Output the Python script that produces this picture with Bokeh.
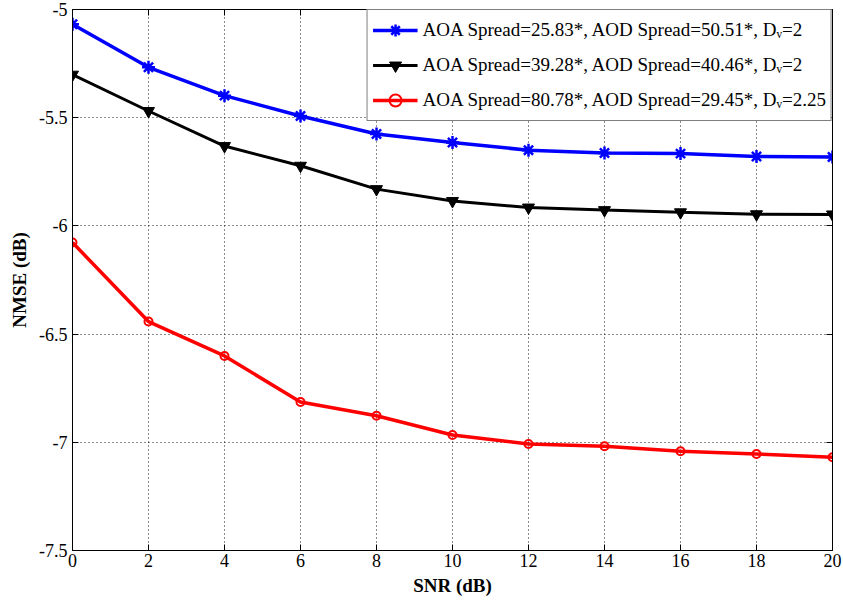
from bokeh.plotting import figure
from bokeh.models import FixedTicker, LinearAxis, Legend, LegendItem, Range1d, CustomJSTickFormatter
from bokeh.embed import file_html
from bokeh.resources import INLINE

# ---- data ----
snr = [0, 2, 4, 6, 8, 10, 12, 14, 16, 18, 20]
nmse_a = [-5.068, -5.267, -5.398, -5.492, -5.575, -5.615, -5.650, -5.663, -5.666, -5.679, -5.682]
nmse_b = [-5.301, -5.469, -5.631, -5.722, -5.830, -5.885, -5.915, -5.927, -5.937, -5.946, -5.947]
nmse_c = [-6.077, -6.442, -6.601, -6.814, -6.877, -6.966, -7.008, -7.018, -7.041, -7.054, -7.069]

labels = [
    "AOA Spread=25.83*, AOD Spread=50.51*, D\u1d65=2",
    "AOA Spread=39.28*, AOD Spread=40.46*, D\u1d65=2",
    "AOA Spread=80.78*, AOD Spread=29.45*, D\u1d65=2.25",
]
x_ticks = [0, 2, 4, 6, 8, 10, 12, 14, 16, 18, 20]
y_ticks = [-7.5, -7.0, -6.5, -6.0, -5.5, -5.0]
y_tick_labels = ["-7.5", "-7", "-6.5", "-6", "-5.5", "-5"]

FONT = "Liberation Serif"

p = figure(width=843, height=600, x_range=Range1d(0, 20), y_range=Range1d(-7.5, -5),
           output_backend="svg", toolbar_location=None,
           min_border_left=72, min_border_right=11, min_border_top=9, min_border_bottom=50,
           background_fill_color="white", border_fill_color="white")
p.outline_line_color = "black"
p.outline_line_width = 1

p.xaxis.ticker = FixedTicker(ticks=x_ticks)
p.yaxis.ticker = FixedTicker(ticks=y_ticks)
p.yaxis.major_label_overrides = {t: l for t, l in zip(y_ticks, y_tick_labels)}
p.xaxis.axis_label = "SNR (dB)"
p.yaxis.axis_label = "NMSE (dB)"

for ax in (p.xaxis[0], p.yaxis[0]):
    ax.major_tick_in = 6
    ax.major_tick_out = 0
    ax.minor_tick_line_color = None
    ax.axis_line_color = "black"
    ax.major_tick_line_color = "black"
    ax.major_label_text_font = FONT
    ax.major_label_text_font_style = "normal"
    ax.major_label_text_font_size = "18px"
    ax.major_label_text_color = "black"
    ax.axis_label_text_font = FONT
    ax.axis_label_text_font_style = "bold"
    ax.axis_label_text_font_size = "19px"
    ax.axis_label_text_color = "black"
p.xaxis.major_label_standoff = 3
p.xaxis.axis_label_standoff = 5
p.yaxis.major_label_standoff = 5
p.yaxis.axis_label_standoff = 6

blank = CustomJSTickFormatter(code="return ''")
top_ax = LinearAxis(ticker=FixedTicker(ticks=x_ticks), formatter=blank,
                    major_tick_in=6, major_tick_out=0, minor_tick_line_color=None,
                    major_label_standoff=0, axis_line_color="black")
right_ax = LinearAxis(ticker=FixedTicker(ticks=y_ticks), formatter=blank,
                      major_tick_in=6, major_tick_out=0, minor_tick_line_color=None,
                      major_label_standoff=0, axis_line_color="black")
p.add_layout(top_ax, "above")
p.add_layout(right_ax, "right")

p.xgrid.ticker = FixedTicker(ticks=x_ticks)
p.ygrid.ticker = FixedTicker(ticks=y_ticks)
p.grid.grid_line_color = "black"
p.grid.grid_line_dash = "1 3"
p.grid.grid_line_width = 1
p.grid.grid_line_alpha = 0.9

la = p.line(snr, nmse_a, line_color="#0000ff", line_width=3.5)
ma = p.scatter(snr, nmse_a, marker="asterisk", size=13, line_color="#0000ff", line_width=2.5)
lb = p.line(snr, nmse_b, line_color="black", line_width=3)
mb = p.scatter(snr, nmse_b, marker="inverted_triangle", size=12, line_color="black", fill_color="black")
lc = p.line(snr, nmse_c, line_color="#ff0000", line_width=3.5)
mc = p.scatter(snr, nmse_c, marker="circle", size=8, line_color="#ff0000", fill_color=None, line_width=2)

legend = Legend(items=[LegendItem(label=labels[0], renderers=[la, ma]),
                       LegendItem(label=labels[1], renderers=[lb, mb]),
                       LegendItem(label=labels[2], renderers=[lc, mc])],
                location="top_right")
legend.border_line_color = "black"
legend.border_line_width = 1
legend.background_fill_color = "white"
legend.background_fill_alpha = 1
legend.label_text_font = FONT
legend.label_text_font_style = "normal"
legend.label_text_font_size = "19px"
legend.label_text_color = "black"
legend.glyph_width = 45
legend.glyph_height = 30
legend.label_height = 30
legend.spacing = 5
legend.padding = 5
legend.margin = 0
legend.label_standoff = 5
p.add_layout(legend)

open("out.html", "w").write(file_html(p, INLINE))
